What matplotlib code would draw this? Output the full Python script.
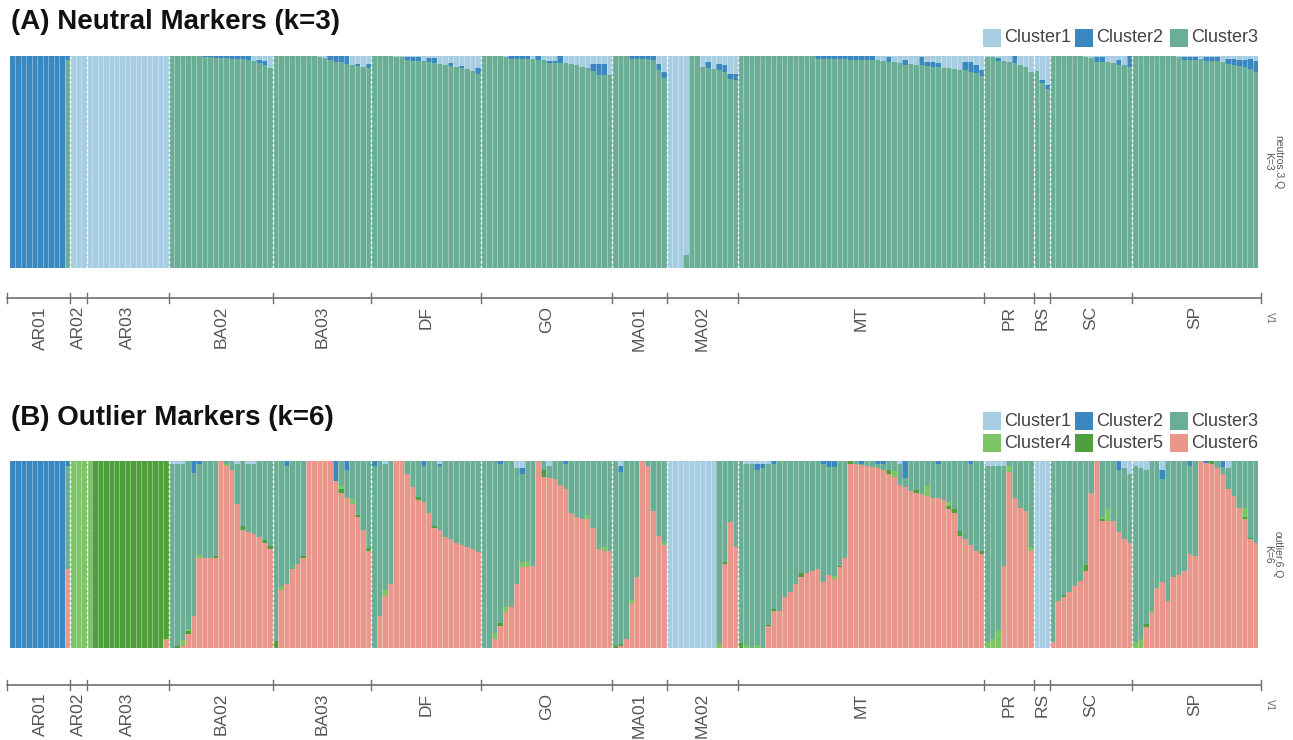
import numpy as np
import matplotlib.pyplot as plt
from matplotlib.patches import Rectangle
from matplotlib.transforms import blended_transform_factory

plt.rcParams['font.family'] = ['Liberation Sans', 'DejaVu Sans']

# ---------------- data ----------------
pops = ["AR01", "AR02", "AR03", "BA02", "BA03", "DF", "GO",
        "MA01", "MA02", "MT", "PR", "RS", "SC", "SP"]
sizes = [11, 3, 15, 19, 18, 20, 24, 10, 13, 45, 9, 3, 15, 23]

clusters = ["Cluster1", "Cluster2", "Cluster3", "Cluster4", "Cluster5", "Cluster6"]
colors = ["#a6cde2", "#3a88bf", "#6aae95", "#7dc465", "#4f9f3c", "#e9978b"]

# (A) neutral markers, K=3 : cluster3 (green) and cluster2 (dark blue); cluster1 = rest
A_c3 = [
    [0] * 10 + [0.98],                                              # AR01
    [0, 0, 0],                                                      # AR02
    [0] * 15,                                                       # AR03
    [1, 1, 1, 1, 1, 1, 0.995, 0.992, 0.99, 0.99, 0.988, 0.986, 0.985, 0.984, 0.982,
     0.975, 0.965, 0.958, 0.94],                                    # BA02
    [1, 1, 1, 1, 1, 1, 1, 0.998, 0.995, 0.99, 0.978, 0.972, 0.968, 0.963, 0.958,
     0.952, 0.948, 0.94],                                           # BA03
    [1, 1, 1, 0.998, 0.996, 0.994, 0.978, 0.976, 0.975, 0.975, 0.968, 0.965, 0.962,
     0.955, 0.95, 0.947, 0.94, 0.935, 0.93, 0.915],                 # DF
    [1, 1, 0.999, 0.997, 0.995, 0.983, 0.983, 0.983, 0.983, 0.984, 0.98, 0.98, 0.967,
     0.967, 0.964, 0.964, 0.959, 0.954, 0.948, 0.943, 0.929, 0.909, 0.909, 0.91],  # GO
    [1, 1, 1, 0.986, 0.986, 0.985, 0.985, 0.98, 0.932, 0.893],      # MA01
    [0, 0, 0, 0.06, 1, 1, 0.948, 0.94, 0.935, 0.932, 0.925, 0.888, 0.885],  # MA02
    [1] * 13 + [0.997, 0.985, 0.985, 0.984, 0.984, 0.983, 0.983, 0.982, 0.982, 0.981,
                0.98, 0.98, 0.978, 0.975, 0.972, 0.97, 0.967, 0.956, 0.96, 0.958,
                0.955, 0.951, 0.948, 0.946, 0.943, 0.94, 0.936, 0.932, 0.932, 0.925,
                0.917, 0.904],                                      # MT
    [0.995, 0.992, 0.976, 0.976, 0.972, 0.964, 0.956, 0.948, 0.925],  # PR
    [0.93, 0.87, 0.845],                                            # RS
    [1, 1, 1, 1, 1, 1, 0.995, 0.99, 0.972, 0.97, 0.97, 0.965, 0.958, 0.955, 0.948],  # SC
    [1] * 8 + [0.996, 0.98, 0.98, 0.98, 0.985, 0.976, 0.975, 0.974, 0.97, 0.96,
               0.955, 0.952, 0.945, 0.938, 0.925],                  # SP
]
A_c2 = [
    [1] * 10 + [0.02],
    [0, 0, 0],
    [0] * 15,
    [0] * 6 + [0.005, 0.008, 0.01, 0.01, 0.012, 0.014, 0.015, 0.016, 0.018, 0, 0.015, 0.015, 0],
    [0] * 10 + [0.02, 0.025, 0.03, 0.035, 0, 0.01, 0, 0.02],
    [0, 0, 0, 0, 0, 0, 0.018, 0.018, 0.018, 0, 0.022, 0.022, 0, 0, 0.015, 0, 0.012, 0, 0, 0.025],
    [0, 0, 0, 0, 0, 0.017, 0.017, 0.017, 0.017, 0, 0.02, 0, 0.01, 0.01, 0.036, 0, 0, 0, 0, 0,
     0.031, 0.052, 0.052, 0],
    [0, 0, 0, 0.012, 0.012, 0.014, 0.014, 0.02, 0.03, 0.03],
    [0, 0, 0, 0, 0, 0, 0, 0.03, 0, 0.03, 0.03, 0.028, 0.03],
    [0] * 14 + [0.015, 0.015, 0.015, 0.016, 0.016, 0.017, 0.017, 0.018, 0.018, 0.018, 0.019,
                0, 0, 0.024, 0, 0, 0.024, 0, 0, 0.04, 0.02, 0.02, 0.02, 0, 0, 0, 0,
                0.04, 0.047, 0.04, 0.028],
    [0, 0, 0.012, 0, 0, 0.036, 0, 0, 0],
    [0, 0.015, 0.015],
    [0] * 8 + [0.022, 0.022, 0, 0, 0.02, 0, 0.05],
    [0] * 9 + [0.015, 0.015, 0.015, 0, 0.018, 0.018, 0.018, 0, 0.025, 0.03, 0.03, 0.035, 0.045, 0.05],
]

# (B) outlier markers, K=6 : cluster3 = rest
B_c6 = [
    [0] * 10 + [0.42],
    [0, 0, 0],
    [0] * 14 + [0.05],
    [0, 0, 0.01, 0.075, 0.17, 0.48, 0.48, 0.48, 0.48, 1.0, 0.97, 0.95, 0.77, 0.63, 0.62,
     0.61, 0.59, 0.56, 0.53],
    [0, 0.31, 0.34, 0.42, 0.45, 0.48, 1.0, 1.0, 1.0, 1.0, 1.0, 0.89, 0.83, 0.80, 0.77,
     0.70, 0.63, 0.52],
    [0, 0.17, 0.28, 0.34, 1.0, 1.0, 0.93, 0.86, 0.79, 0.78, 0.72, 0.64, 0.63, 0.59, 0.58,
     0.56, 0.55, 0.54, 0.53, 0.51],
    [0, 0, 0.05, 0.115, 0.19, 0.22, 0.34, 0.43, 0.43, 0.44, 1.0, 0.915, 0.905, 0.9, 0.87,
     0.85, 0.72, 0.70, 0.69, 0.69, 0.64, 0.53, 0.52, 0.52],
    [0, 0.01, 0.05, 0.24, 0.38, 1.0, 0.97, 0.73, 0.6, 0.55],
    [0] * 10 + [0.45, 0.675, 0.54],
    [0, 0, 0, 0, 0, 0.115, 0.2, 0.2, 0.27, 0.3, 0.34, 0.38, 0.40, 0.41, 0.42, 0.35, 0.39,
     0.37, 0.43, 0.48, 0.985, 0.98, 0.975, 0.97, 0.965, 0.96, 0.95, 0.93, 0.915, 0.87,
     0.86, 0.84, 0.83, 0.82, 0.81, 0.80, 0.80, 0.79, 0.74, 0.72, 0.60, 0.58, 0.55, 0.52, 0.50],
    [0, 0, 0, 0.44, 0.94, 0.80, 0.75, 0.73, 0.52],
    [0, 0, 0],
    [0.03, 0.25, 0.27, 0.30, 0.33, 0.36, 0.41, 0.83, 1.0, 0.68, 0.68, 0.68, 0.62, 0.58, 0.56],
    [0, 0, 0.11, 0.19, 0.32, 0.35, 0.25, 0.38, 0.39, 0.41, 0.50, 0.49, 1.0, 0.99, 0.98,
     0.96, 0.93, 0.85, 0.81, 0.75, 0.69, 0.58, 0.56],
]
B_c5 = [
    [0] * 11,
    [0, 0, 0],
    [0] + [1] * 13 + [0.95],
    [0, 0.01, 0, 0.015, 0, 0, 0, 0, 0.01, 0, 0, 0, 0, 0.02, 0, 0, 0, 0.015, 0.015],
    [0.035, 0, 0, 0, 0, 0.012, 0, 0, 0, 0, 0, 0, 0.017, 0, 0, 0.01, 0, 0.015],
    [0, 0, 0, 0, 0, 0, 0, 0, 0.018, 0, 0, 0.01, 0, 0, 0, 0, 0, 0, 0, 0],
    [0, 0, 0, 0.018, 0, 0, 0, 0, 0, 0, 0, 0.035, 0, 0, 0, 0, 0, 0, 0, 0, 0, 0, 0, 0],
    [0.012, 0.01, 0, 0, 0, 0, 0, 0, 0, 0],
    [0] * 10 + [0.01, 0, 0],
    [0.025, 0, 0, 0, 0, 0.01, 0.01, 0, 0, 0, 0, 0.02, 0, 0, 0, 0, 0, 0, 0.01, 0, 0.015,
     0, 0, 0, 0, 0, 0, 0.02, 0, 0, 0, 0, 0.012, 0, 0, 0, 0, 0, 0.02, 0.02, 0.025,
     0, 0, 0, 0.02],
    [0] * 9,
    [0, 0, 0],
    [0, 0, 0.015, 0, 0, 0, 0.035, 0, 0, 0.01, 0, 0, 0, 0, 0],
    [0, 0, 0.018, 0, 0, 0, 0, 0, 0, 0, 0, 0, 0, 0, 0.02, 0, 0, 0, 0, 0, 0.01, 0.008, 0],
]
B_c4 = [
    [0] * 11,
    [1, 1, 1],
    [1] + [0] * 14,
    [0, 0, 0.035, 0.01, 0, 0.015, 0, 0, 0, 0, 0.015, 0, 0, 0, 0, 0, 0, 0, 0],
    [0, 0.02, 0, 0, 0, 0, 0, 0, 0, 0, 0, 0, 0.025, 0, 0.025, 0, 0, 0],
    [0, 0, 0.027] + [0] * 17,
    [0, 0, 0.03, 0, 0.035, 0, 0, 0.027, 0.035, 0, 0, 0, 0, 0, 0, 0, 0, 0, 0, 0.018, 0, 0, 0.018, 0],
    [0, 0, 0, 0.018, 0, 0, 0, 0, 0, 0.018],
    [0] * 9 + [0.02, 0, 0, 0],
    [0, 0.015, 0, 0.015] + [0] * 13 + [0.015] + [0] * 10 + [0.03] + [0] * 5 + [0.055]
    + [0] * 3 + [0.018] + [0] * 6,
    [0.03, 0.05, 0.09, 0, 0.03, 0, 0, 0, 0.02],
    [0, 0, 0],
    [0] * 9 + [0.01, 0.06] + [0] * 4,
    [0.03, 0.05, 0, 0.01] + [0] * 16 + [0.05, 0, 0],
]
B_c2 = [
    [1] * 10 + [0.03],
    [0, 0, 0],
    [0] * 15,
    [0, 0, 0, 0, 0.067, 0.018] + [0] * 13,
    [0, 0, 0.03] + [0] * 8 + [0.11, 0, 0.05, 0, 0, 0, 0],
    [0.03] + [0] * 8 + [0.03, 0, 0, 0.01] + [0] * 7,
    [0, 0, 0, 0.018, 0, 0, 0, 0.03] + [0] * 7 + [0.015] + [0] * 8,
    [0, 0.03, 0, 0, 0, 0.018, 0, 0, 0, 0],
    [0] * 13,
    [0, 0, 0, 0.03, 0.02, 0, 0.02] + [0] * 8 + [0.02, 0.035, 0.035] + [0] * 4 + [0.02]
    + [0, 0] + [0.02, 0.015] + [0] * 3 + [0.09] + [0] * 5 + [0.02] + [0] * 5 + [0.02, 0, 0],
    [0] * 9,
    [0, 0, 0],
    [0] * 8 + [0.015, 0, 0, 0, 0.05, 0, 0],
    [0] * 5 + [0.05] + [0] * 4 + [0.03, 0, 0, 0.02, 0, 0, 0.035] + [0] * 6,
]
B_c1 = [
    [0] * 11,
    [0, 0, 0],
    [0] * 15,
    [0.015, 0.015, 0.015] + [0] * 9 + [0.015, 0, 0.015, 0.015, 0, 0, 0],
    [0] * 18,
    [0, 0, 0.02] + [0] * 9 + [0.02] + [0] * 7,
    [0] * 6 + [0.04, 0.04] + [0] * 4 + [0.03] + [0] * 11,
    [0, 0.03] + [0] * 8,
    [1] * 9 + [0, 0, 0, 0],
    [0, 0.02, 0.02, 0.02, 0.02, 0.02] + [0] * 23 + [0.02] + [0] * 15,
    [0.03, 0.03, 0.03, 0.03, 0, 0, 0, 0, 0],
    [1, 1, 1],
    [0] * 13 + [0.04, 0.07],
    [0.03, 0.04, 0.05, 0, 0, 0.05] + [0] * 11 + [0.04] + [0] * 5,
]


def flat(groups):
    return np.array([v for g in groups for v in g], dtype=float)


a2, a3 = flat(A_c2), flat(A_c3)
QA = np.column_stack([np.clip(1 - a2 - a3, 0, 1), a2, a3])
b1, b2, b4, b5, b6 = flat(B_c1), flat(B_c2), flat(B_c4), flat(B_c5), flat(B_c6)
QB = np.column_stack([b1, b2, np.clip(1 - b1 - b2 - b4 - b5 - b6, 0, 1), b4, b5, b6])

N = sum(sizes)
bounds = np.concatenate([[0], np.cumsum(sizes)])
centers = (bounds[:-1] + bounds[1:]) / 2

# ---------------- figure ----------------
W, H = 1293, 740
fig = plt.figure(figsize=(W / 100, H / 100), dpi=100)


def fx(px):
    return px / W


def fy(py):
    return 1 - py / H


def structure_panel(top, bottom, Q, title, title_y, side, line_y, legend_rows):
    ax = fig.add_axes([fx(10), fy(bottom), fx(1258) - fx(10), (bottom - top) / H])
    x = np.arange(N)
    base = np.zeros(N)
    for k in reversed(range(Q.shape[1])):
        ax.bar(x, Q[:, k], bottom=base, width=1.0, align='edge',
               color=colors[k], linewidth=0)
        base += Q[:, k]
    # thin light stripes between individuals
    ax.vlines(np.arange(1, N), 0, 1, colors='white', lw=0.6, alpha=0.4)
    # dashed population separators
    ax.vlines(bounds[1:-1], 0, 1, colors='white', lw=1.0, linestyles=(0, (2, 1.5)))
    ax.set_xlim(0, N)
    ax.set_ylim(0, 1)
    ax.axis('off')

    # population axis below the panel
    tr = blended_transform_factory(ax.transData, fig.transFigure)
    ax.plot([-0.5, N + 0.5], [fy(line_y), fy(line_y)], color='#707070', lw=1.2,
            transform=tr, clip_on=False)
    for b in np.concatenate([[-0.5], bounds[1:-1], [N + 0.5]]):
        ax.plot([b, b], [fy(line_y - 5), fy(line_y + 5)], color='#707070', lw=1,
                transform=tr, clip_on=False)
    for c, p in zip(centers, pops):
        ax.text(c, fy(line_y + 8), p, rotation=90, ha='center', va='top',
                fontsize=12.5, color='#555555', transform=tr, clip_on=False)
    fig.text(fx(1270), fy(line_y + 20), "V1", rotation=-90, ha='center', va='center',
             fontsize=7, color='#666666')

    # side label
    mid = (top + bottom) / 2
    fig.text(fx(1273), fy(mid), side, rotation=-90, ha='center', va='center',
             fontsize=7.5, color='#555555', linespacing=1.0, multialignment='center')

    # title
    fig.text(fx(11), fy(title_y), title, ha='left', va='center',
             fontsize=20, fontweight='bold', color='#111111')

    # legend
    sq_x = [983, 1075, 1170]
    for y, ks in legend_rows:
        for j, k in enumerate(ks):
            fig.patches.append(Rectangle((fx(sq_x[j]), fy(y + 9)), 18 / W, 18 / H,
                                         transform=fig.transFigure,
                                         facecolor=colors[k], edgecolor='none'))
            fig.text(fx(sq_x[j] + 21), fy(y), clusters[k], ha='left', va='center',
                     fontsize=13, color='#444444')
    return ax


structure_panel(55.7, 267.7, QA, "(A) Neutral Markers (k=3)", 22, "neutros.3.Q\nK=3", 298,
                [(38, [0, 1, 2])])
structure_panel(460.7, 648, QB, "(B) Outlier Markers (k=6)", 418, "outlier.6.Q\nK=6", 685,
                [(421, [0, 1, 2]), (443, [3, 4, 5])])

fig.savefig("out.png", dpi=100)
